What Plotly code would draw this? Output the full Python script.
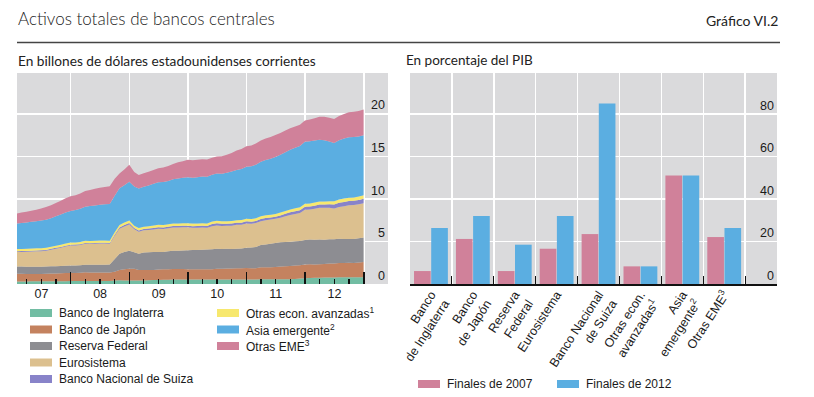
import plotly.graph_objects as go
import pandas as pd

# ---------------- Left panel data (trillions of current USD, month-end) ----------------
months = pd.date_range("2007-01-31", periods=72, freq="ME")

banco_inglaterra = [
    0.30, 0.30, 0.30, 0.31, 0.31, 0.31, 0.32, 0.32, 0.32, 0.33, 0.33, 0.34,
    0.34, 0.34, 0.35, 0.35, 0.35, 0.35, 0.35, 0.36, 0.40, 0.45, 0.42, 0.40,
    0.40, 0.40, 0.42, 0.44, 0.46, 0.48, 0.50, 0.50, 0.52, 0.52, 0.52, 0.52,
    0.52, 0.52, 0.52, 0.52, 0.52, 0.53, 0.53, 0.53, 0.53, 0.53, 0.54, 0.54,
    0.54, 0.54, 0.55, 0.55, 0.55, 0.55, 0.55, 0.55, 0.56, 0.60, 0.65, 0.68,
    0.70, 0.72, 0.74, 0.75, 0.75, 0.76, 0.78, 0.78, 0.78, 0.78, 0.78, 0.78]
banco_japon = [
    0.90, 0.90, 0.88, 0.88, 0.88, 0.87, 0.88, 0.90, 0.92, 0.92, 0.95, 0.95,
    0.96, 0.98, 1.02, 1.00, 1.00, 1.00, 1.00, 1.00, 1.05, 1.20, 1.30, 1.40,
    1.38, 1.25, 1.22, 1.20, 1.20, 1.22, 1.22, 1.24, 1.25, 1.24, 1.25, 1.22,
    1.22, 1.22, 1.20, 1.20, 1.22, 1.25, 1.25, 1.28, 1.28, 1.32, 1.32, 1.35,
    1.32, 1.32, 1.42, 1.42, 1.42, 1.45, 1.50, 1.55, 1.55, 1.58, 1.55, 1.62,
    1.62, 1.58, 1.58, 1.60, 1.65, 1.65, 1.68, 1.70, 1.72, 1.70, 1.75, 1.82]
reserva_federal = [
    0.85, 0.85, 0.85, 0.85, 0.85, 0.86, 0.86, 0.86, 0.86, 0.86, 0.87, 0.88,
    0.88, 0.88, 0.90, 0.90, 0.90, 0.90, 0.90, 0.92, 1.45, 1.90, 2.05, 2.10,
    1.95, 1.90, 2.05, 2.10, 2.10, 2.05, 2.05, 2.10, 2.15, 2.15, 2.18, 2.22,
    2.25, 2.27, 2.30, 2.33, 2.35, 2.35, 2.33, 2.33, 2.30, 2.30, 2.32, 2.38,
    2.42, 2.50, 2.60, 2.68, 2.75, 2.82, 2.85, 2.85, 2.85, 2.85, 2.85, 2.88,
    2.90, 2.90, 2.90, 2.85, 2.85, 2.85, 2.85, 2.82, 2.80, 2.82, 2.85, 2.88]
eurosistema = [
    1.70, 1.72, 1.75, 1.78, 1.80, 1.82, 1.85, 1.95, 2.05, 2.15, 2.25, 2.35,
    2.35, 2.38, 2.45, 2.45, 2.48, 2.50, 2.50, 2.45, 2.75, 2.95, 3.00, 3.10,
    2.70, 2.60, 2.62, 2.60, 2.65, 2.75, 2.70, 2.70, 2.72, 2.72, 2.72, 2.70,
    2.62, 2.60, 2.62, 2.55, 2.70, 2.75, 2.72, 2.70, 2.75, 2.80, 2.78, 2.85,
    2.80, 2.80, 2.82, 2.85, 2.85, 2.85, 2.90, 3.00, 3.15, 3.20, 3.30, 3.55,
    3.55, 3.65, 3.75, 3.75, 3.70, 3.60, 3.75, 3.85, 3.95, 3.98, 4.00, 4.02]
banco_suiza = [
    0.10, 0.10, 0.10, 0.10, 0.10, 0.10, 0.10, 0.10, 0.10, 0.10, 0.10, 0.10,
    0.10, 0.10, 0.10, 0.10, 0.10, 0.10, 0.10, 0.10, 0.12, 0.14, 0.15, 0.16,
    0.15, 0.15, 0.16, 0.17, 0.18, 0.18, 0.18, 0.18, 0.18, 0.18, 0.18, 0.19,
    0.19, 0.20, 0.20, 0.22, 0.25, 0.25, 0.24, 0.24, 0.24, 0.24, 0.25, 0.25,
    0.25, 0.25, 0.25, 0.25, 0.24, 0.24, 0.26, 0.30, 0.32, 0.33, 0.33, 0.35,
    0.35, 0.36, 0.37, 0.38, 0.42, 0.48, 0.50, 0.50, 0.50, 0.50, 0.50, 0.52]
otras_avanzadas = [
    0.25, 0.25, 0.25, 0.25, 0.25, 0.25, 0.25, 0.25, 0.25, 0.26, 0.26, 0.26,
    0.26, 0.26, 0.26, 0.26, 0.26, 0.26, 0.26, 0.26, 0.28, 0.30, 0.30, 0.30,
    0.28, 0.27, 0.27, 0.27, 0.28, 0.28, 0.28, 0.29, 0.29, 0.29, 0.29, 0.30,
    0.30, 0.30, 0.30, 0.30, 0.30, 0.30, 0.30, 0.31, 0.31, 0.31, 0.31, 0.31,
    0.31, 0.31, 0.32, 0.32, 0.32, 0.32, 0.33, 0.33, 0.34, 0.34, 0.34, 0.35,
    0.35, 0.36, 0.36, 0.37, 0.37, 0.38, 0.38, 0.39, 0.39, 0.40, 0.40, 0.40]
asia_emergente = [
    3.00, 3.05, 3.10, 3.15, 3.20, 3.25, 3.30, 3.35, 3.45, 3.55, 3.65, 3.70,
    3.80, 3.90, 4.00, 4.10, 4.15, 4.20, 4.25, 4.30, 4.30, 4.30, 4.40, 4.55,
    4.60, 4.65, 4.70, 4.80, 4.90, 5.00, 5.05, 5.10, 5.20, 5.30, 5.35, 5.40,
    5.40, 5.45, 5.50, 5.50, 5.50, 5.55, 5.60, 5.70, 5.80, 5.90, 6.00, 6.10,
    6.20, 6.30, 6.40, 6.50, 6.60, 6.70, 6.80, 6.90, 7.00, 7.10, 7.20, 7.30,
    7.30, 7.30, 7.25, 7.20, 7.00, 6.85, 6.95, 7.05, 7.10, 7.10, 7.05, 7.05]
otras_eme = [
    1.20, 1.22, 1.25, 1.30, 1.35, 1.42, 1.48, 1.52, 1.58, 1.62, 1.68, 1.72,
    1.75, 1.80, 1.85, 1.90, 1.95, 2.00, 2.05, 2.10, 2.00, 1.75, 1.85, 2.00,
    1.70, 1.60, 1.58, 1.60, 1.62, 1.65, 1.70, 1.75, 1.80, 1.90, 1.95, 2.05,
    2.05, 2.05, 2.02, 2.00, 2.00, 2.02, 2.05, 2.10, 2.20, 2.28, 2.35, 2.42,
    2.45, 2.48, 2.50, 2.52, 2.55, 2.57, 2.57, 2.55, 2.53, 2.52, 2.50, 2.50,
    2.55, 2.62, 2.70, 2.75, 2.80, 2.83, 2.86, 2.90, 2.95, 2.98, 3.00, 3.03]

left_names = ["Banco de Inglaterra", "Banco de Japón", "Reserva Federal",
              "Eurosistema", "Banco Nacional de Suiza",
              "Otras econ. avanzadas<sup>1</sup>", "Asia emergente<sup>2</sup>",
              "Otras EME<sup>3</sup>"]
left_series = [banco_inglaterra, banco_japon, reserva_federal, eurosistema,
               banco_suiza, otras_avanzadas, asia_emergente, otras_eme]
left_colors = ["#72BDA3", "#C4825F", "#8D8D92", "#DCC08F",
               "#8883C9", "#F7E86E", "#5BAEE1", "#D0819A"]

year_labels = ["07", "08", "09", "10", "11", "12"]
left_yticks = [0, 5, 10, 15, 20]

# ---------------- Right panel data (% of GDP) ----------------
bar_categories = ["Banco<br>de Inglaterra", "Banco<br>de Japón", "Reserva<br>Federal",
                  "Eurosistema", "Banco Nacional<br>de Suiza",
                  "Otras econ.<br>avanzadas<sup>1</sup>", "Asia<br>emergente<sup>2</sup>",
                  "Otras EME<sup>3</sup>"]
finales_2007 = [6.1, 21.2, 6.1, 16.6, 23.5, 8.3, 51.1, 22.1]
finales_2012 = [26.4, 32.0, 18.5, 32.0, 84.9, 8.3, 51.1, 26.4]
bar_names = ["Finales de 2007", "Finales de 2012"]
bar_colors = ["#D0819A", "#5BAEE1"]
right_yticks = [0, 20, 40, 60, 80]

# ---------------- Figure ----------------
W, H = 814, 397
BG = "#DADADC"
AX_FONT = dict(family="Liberation Sans, Arial, sans-serif", size=12.5, color="#1a1a1a")
TITLE_FONT = "Lato, Open Sans, sans-serif"

fig = go.Figure()

for name, vals, col in zip(left_names, left_series, left_colors):
    fig.add_trace(go.Scatter(
        x=months, y=vals, name=name, stackgroup="stack", mode="none",
        fillcolor=col, line=dict(width=0), showlegend=False,
        xaxis="x", yaxis="y", hoverinfo="skip"))

cat_idx = list(range(len(bar_categories)))
for name, vals, col in zip(bar_names, [finales_2007, finales_2012], bar_colors):
    fig.add_trace(go.Bar(
        x=cat_idx, y=vals, name=name, marker=dict(color=col, line=dict(width=0)),
        showlegend=False, xaxis="x2", yaxis="y2", hoverinfo="skip"))

date_range = ["2007-01-31", "2013-06-01"]
year_bounds = [f"{y}-01-01" for y in range(2008, 2014)]
mid_years = [f"{y}-07-02" for y in range(2007, 2013)]
quarters = [f"{y}-{m:02d}-01" for y in range(2007, 2013) for m in (4, 7, 10)]
cat_bounds = [i - 0.5 for i in range(len(bar_categories) + 1)]

# empty helper traces so that the overlay axes (labels / minor ticks) get drawn
for xa, xv in (("x3", mid_years[0]), ("x4", mid_years[0])):
    fig.add_trace(go.Scatter(x=[xv], y=[None], xaxis=xa, yaxis="y", mode="markers",
                             showlegend=False, hoverinfo="skip"))
fig.add_trace(go.Scatter(x=[0], y=[None], xaxis="x5", yaxis="y2", mode="markers",
                         showlegend=False, hoverinfo="skip"))

def px_x(p):
    return p / W

def px_y(p):
    return 1 - p / H

left_dom = [px_x(17), px_x(388)]
right_dom = [px_x(410), px_x(777)]
y_dom = [px_y(284), px_y(73)]

common = dict(automargin=False, zeroline=False, fixedrange=True)

fig.update_layout(
    width=W, height=H, autosize=False,
    margin=dict(l=0, r=0, t=0, b=0, pad=0),
    paper_bgcolor="white", plot_bgcolor=BG,
    barmode="group", bargap=0.18, bargroupgap=0.03,
    showlegend=False,
    # left: grid + year ticks
    xaxis=dict(
        domain=left_dom, anchor="y", type="date", range=date_range,
        tickmode="array", tickvals=year_bounds, showticklabels=False,
        ticks="inside", ticklen=12, tickwidth=1.5, tickcolor="#111",
        showgrid=True, gridcolor="white", gridwidth=1.5, showline=False, **common),
    # left: year labels
    xaxis3=dict(
        overlaying="x", anchor="y", type="date", range=date_range,
        tickmode="array", tickvals=mid_years, ticktext=year_labels,
        ticks="", showgrid=False, showline=False, tickfont=AX_FONT, **common),
    # left: quarterly ticks
    xaxis4=dict(
        overlaying="x", anchor="y", type="date", range=date_range,
        tickmode="array", tickvals=quarters, showticklabels=False,
        ticks="inside", ticklen=5, tickwidth=1.2, tickcolor="#111",
        showgrid=False, showline=False, **common),
    yaxis=dict(
        domain=y_dom, anchor="x", range=[0, 24.8], side="right",
        tickmode="array", tickvals=left_yticks,
        ticklabelposition="inside top", ticks="",
        showgrid=True, gridcolor="white", gridwidth=1.5, tickfont=AX_FONT, **common),
    # right: grid + boundary ticks + axis line
    xaxis2=dict(
        domain=right_dom, anchor="y2", range=[-0.5, 8.26],
        tickmode="array", tickvals=cat_bounds, showticklabels=False,
        ticks="inside", ticklen=8, tickwidth=1.2, tickcolor="#111",
        showgrid=True, gridcolor="white", gridwidth=1.5,
        showline=True, linecolor="#111", linewidth=1.5, **common),
    # right: category labels
    xaxis5=dict(
        overlaying="x2", anchor="y2", range=[-0.5, 8.26],
        tickmode="array", tickvals=cat_idx, ticktext=bar_categories,
        tickangle=-57, ticks="", showgrid=False, showline=False,
        tickfont=AX_FONT, **common),
    yaxis2=dict(
        domain=y_dom, anchor="x2", range=[0, 99.3], side="right",
        tickmode="array", tickvals=right_yticks,
        ticklabelposition="inside top", ticks="",
        showgrid=True, gridcolor="white", gridwidth=1.5, tickfont=AX_FONT, **common),
)

annotations = [
    dict(text="Activos totales de bancos centrales", x=px_x(16), y=px_y(19),
         xanchor="left", yanchor="middle",
         font=dict(family=TITLE_FONT, size=17, color="#222", weight=300)),
    dict(text="Gráfico VI.2", x=px_x(780), y=px_y(20), xanchor="right", yanchor="middle",
         font=dict(family=TITLE_FONT, size=14, color="#222")),
    dict(text="En billones de dólares estadounidenses corrientes", x=px_x(16), y=px_y(60),
         xanchor="left", yanchor="middle",
         font=dict(family=TITLE_FONT, size=13.7, color="#222")),
    dict(text="En porcentaje del PIB", x=px_x(404), y=px_y(60),
         xanchor="left", yanchor="middle",
         font=dict(family=TITLE_FONT, size=13.5, color="#222")),
]
shapes = [dict(type="line", xref="paper", yref="paper", x0=px_x(17), x1=px_x(780),
               y0=px_y(42.5), y1=px_y(42.5), line=dict(color="#444", width=1.5))]

# manual legends
LEG_FONT = dict(family="Liberation Sans, Arial, sans-serif", size=12, color="#1a1a1a")

def legend_entry(x_sw, y_c, color, label):
    shapes.append(dict(type="rect", xref="paper", yref="paper",
                       x0=px_x(x_sw), x1=px_x(x_sw + 22), y0=px_y(y_c + 4), y1=px_y(y_c - 4),
                       fillcolor=color, line=dict(width=0)))
    annotations.append(dict(text=label, x=px_x(x_sw + 27), y=px_y(y_c), xanchor="left",
                            yanchor="middle", showarrow=False, font=LEG_FONT))

for i in range(5):
    legend_entry(30, 313 + i * 16.5, left_colors[i], left_names[i])
for i in range(5, 8):
    legend_entry(217, 313 + (i - 5) * 16.5, left_colors[i], left_names[i])
legend_entry(418, 384, bar_colors[0], bar_names[0])
legend_entry(557, 384, bar_colors[1], bar_names[1])

for a in annotations:
    a.setdefault("showarrow", False)
    a.setdefault("xref", "paper")
    a.setdefault("yref", "paper")

fig.update_layout(annotations=annotations, shapes=shapes)

fig.write_html("out.html", config={"displayModeBar": False, "staticPlot": True},
               post_script="document.body.style.margin='0';document.body.style.overflow='hidden';")
